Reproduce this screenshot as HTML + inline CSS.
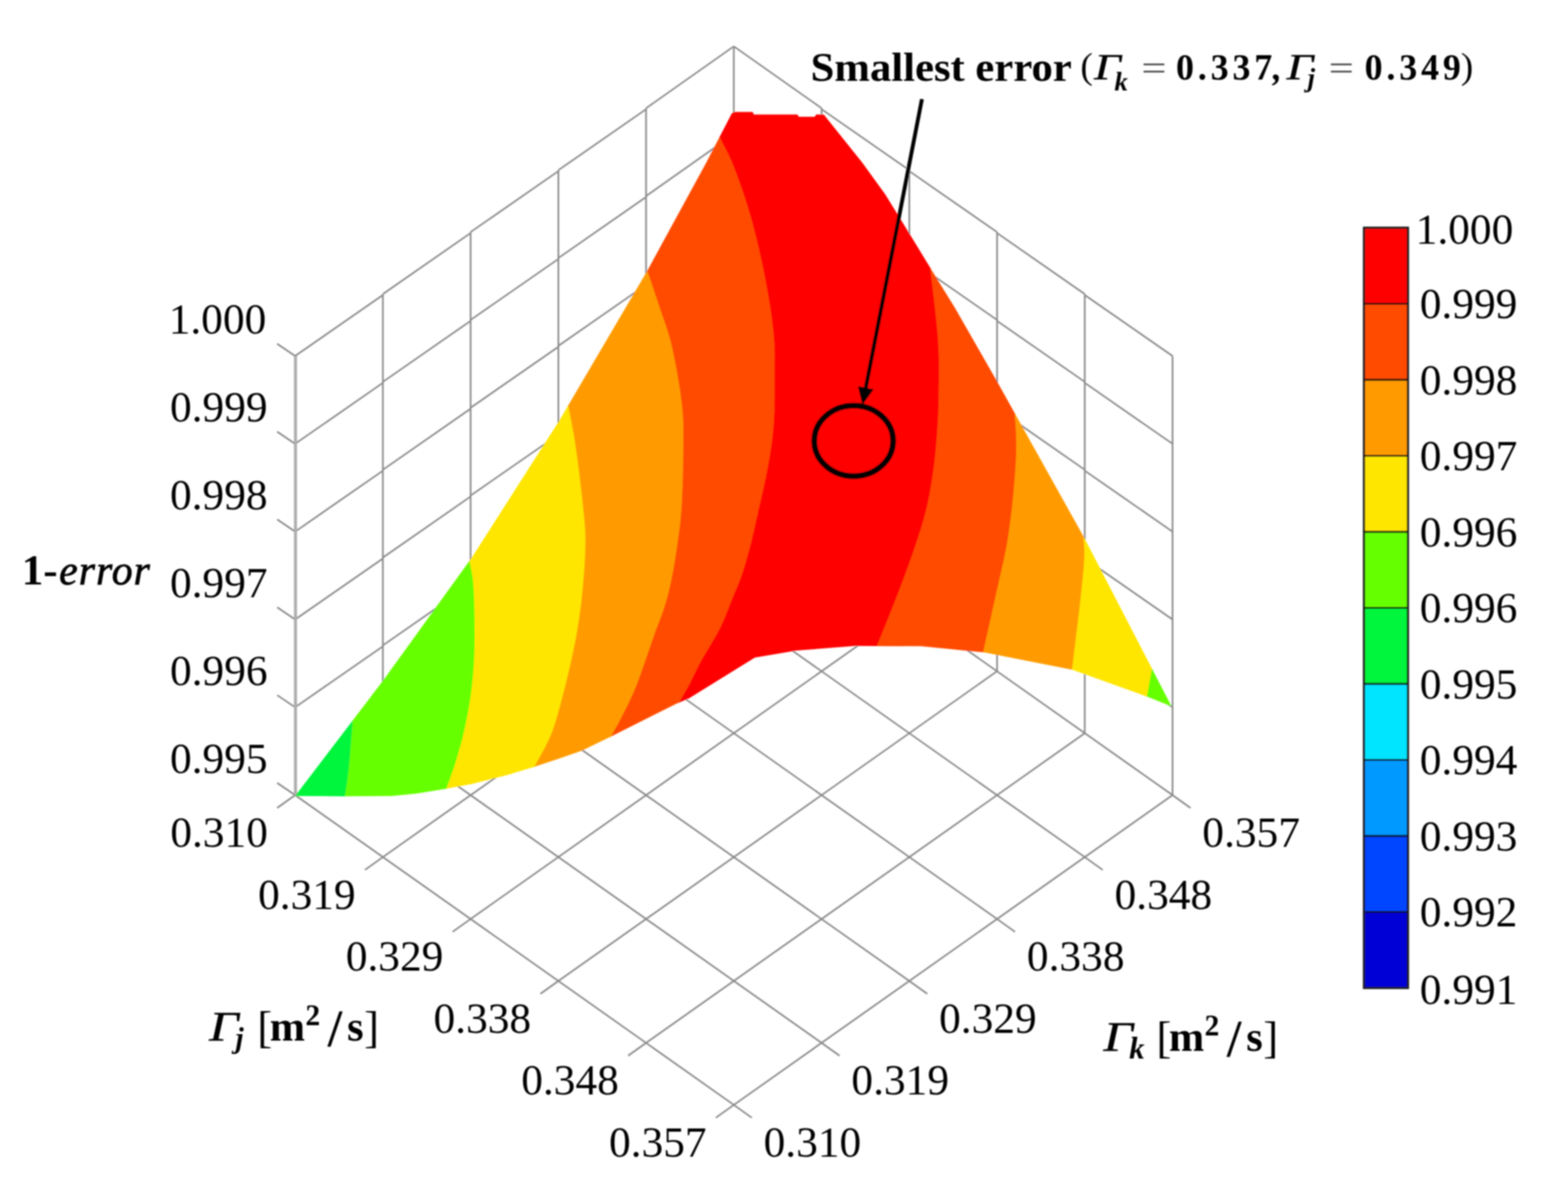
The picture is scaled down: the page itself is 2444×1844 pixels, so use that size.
<!DOCTYPE html>
<html lang="en"><head><meta charset="utf-8"><title>Surface plot: 1-error vs Γj and Γk</title>
<style>html,body{margin:0;padding:0;background:#fff;overflow:hidden}svg{display:block}</style></head>
<body>
<svg width="2444" height="1844" viewBox="0 0 2444 1844">
<defs><filter id="soft" x="0" y="0" width="2444" height="1844" filterUnits="userSpaceOnUse"><feGaussianBlur stdDeviation="0.8"/></filter></defs>
<rect width="2444" height="1844" fill="#fff"/>
<g filter="url(#soft)">
<g fill="none" stroke-linecap="butt"><line x1="460" y1="1239.4" x2="460" y2="554.9" stroke="#8a8a8a" stroke-width="2.6" />
<line x1="596.8" y1="1142.9" x2="596.8" y2="458.4" stroke="#8a8a8a" stroke-width="2.6" />
<line x1="733.5" y1="1046.3" x2="733.5" y2="361.8" stroke="#8a8a8a" stroke-width="2.6" />
<line x1="870.3" y1="949.8" x2="870.3" y2="265.3" stroke="#8a8a8a" stroke-width="2.6" />
<line x1="1007" y1="853.2" x2="1007" y2="168.7" stroke="#8a8a8a" stroke-width="2.6" />
<line x1="1143.8" y1="756.7" x2="1143.8" y2="72.2" stroke="#8a8a8a" stroke-width="2.6" />
<line x1="1280.6" y1="853.2" x2="1280.6" y2="168.7" stroke="#8a8a8a" stroke-width="2.6" />
<line x1="1417.3" y1="949.8" x2="1417.3" y2="265.3" stroke="#8a8a8a" stroke-width="2.6" />
<line x1="1554.1" y1="1046.3" x2="1554.1" y2="361.8" stroke="#8a8a8a" stroke-width="2.6" />
<line x1="1690.8" y1="1142.9" x2="1690.8" y2="458.4" stroke="#8a8a8a" stroke-width="2.6" />
<line x1="1827.6" y1="1239.4" x2="1827.6" y2="554.9" stroke="#8a8a8a" stroke-width="2.6" />
<line x1="460" y1="554.9" x2="596.8" y2="459.9" stroke="#8a8a8a" stroke-width="2.6" />
<line x1="1827.6" y1="554.9" x2="1690.8" y2="459.9" stroke="#8a8a8a" stroke-width="2.6" />
<line x1="596.8" y1="458.4" x2="733.5" y2="363.3" stroke="#8a8a8a" stroke-width="2.6" />
<line x1="1690.8" y1="458.4" x2="1554.1" y2="363.3" stroke="#8a8a8a" stroke-width="2.6" />
<line x1="733.5" y1="361.8" x2="870.3" y2="266.8" stroke="#8a8a8a" stroke-width="2.6" />
<line x1="1554.1" y1="361.8" x2="1417.3" y2="266.8" stroke="#8a8a8a" stroke-width="2.6" />
<line x1="870.3" y1="265.3" x2="1007" y2="170.2" stroke="#8a8a8a" stroke-width="2.6" />
<line x1="1417.3" y1="265.3" x2="1280.6" y2="170.2" stroke="#8a8a8a" stroke-width="2.6" />
<line x1="1007" y1="168.7" x2="1143.8" y2="72.2" stroke="#8a8a8a" stroke-width="2.6" />
<line x1="1280.6" y1="168.7" x2="1143.8" y2="72.2" stroke="#8a8a8a" stroke-width="2.6" />
<line x1="460" y1="691.8" x2="596.8" y2="596.8" stroke="#8a8a8a" stroke-width="2.6" />
<line x1="1827.6" y1="691.8" x2="1690.8" y2="596.8" stroke="#8a8a8a" stroke-width="2.6" />
<line x1="596.8" y1="595.3" x2="733.5" y2="500.2" stroke="#8a8a8a" stroke-width="2.6" />
<line x1="1690.8" y1="595.3" x2="1554.1" y2="500.2" stroke="#8a8a8a" stroke-width="2.6" />
<line x1="733.5" y1="498.7" x2="870.3" y2="403.7" stroke="#8a8a8a" stroke-width="2.6" />
<line x1="1554.1" y1="498.7" x2="1417.3" y2="403.7" stroke="#8a8a8a" stroke-width="2.6" />
<line x1="870.3" y1="402.2" x2="1007" y2="307.1" stroke="#8a8a8a" stroke-width="2.6" />
<line x1="1417.3" y1="402.2" x2="1280.6" y2="307.1" stroke="#8a8a8a" stroke-width="2.6" />
<line x1="1007" y1="305.6" x2="1143.8" y2="209.1" stroke="#8a8a8a" stroke-width="2.6" />
<line x1="1280.6" y1="305.6" x2="1143.8" y2="209.1" stroke="#8a8a8a" stroke-width="2.6" />
<line x1="460" y1="828.7" x2="596.8" y2="733.7" stroke="#8a8a8a" stroke-width="2.6" />
<line x1="1827.6" y1="828.7" x2="1690.8" y2="733.7" stroke="#8a8a8a" stroke-width="2.6" />
<line x1="596.8" y1="732.2" x2="733.5" y2="637.1" stroke="#8a8a8a" stroke-width="2.6" />
<line x1="1690.8" y1="732.2" x2="1554.1" y2="637.1" stroke="#8a8a8a" stroke-width="2.6" />
<line x1="733.5" y1="635.6" x2="870.3" y2="540.6" stroke="#8a8a8a" stroke-width="2.6" />
<line x1="1554.1" y1="635.6" x2="1417.3" y2="540.6" stroke="#8a8a8a" stroke-width="2.6" />
<line x1="870.3" y1="539.1" x2="1007" y2="444" stroke="#8a8a8a" stroke-width="2.6" />
<line x1="1417.3" y1="539.1" x2="1280.6" y2="444" stroke="#8a8a8a" stroke-width="2.6" />
<line x1="1007" y1="442.5" x2="1143.8" y2="346" stroke="#8a8a8a" stroke-width="2.6" />
<line x1="1280.6" y1="442.5" x2="1143.8" y2="346" stroke="#8a8a8a" stroke-width="2.6" />
<line x1="460" y1="965.6" x2="596.8" y2="870.6" stroke="#8a8a8a" stroke-width="2.6" />
<line x1="1827.6" y1="965.6" x2="1690.8" y2="870.6" stroke="#8a8a8a" stroke-width="2.6" />
<line x1="596.8" y1="869.1" x2="733.5" y2="774" stroke="#8a8a8a" stroke-width="2.6" />
<line x1="1690.8" y1="869.1" x2="1554.1" y2="774" stroke="#8a8a8a" stroke-width="2.6" />
<line x1="733.5" y1="772.5" x2="870.3" y2="677.5" stroke="#8a8a8a" stroke-width="2.6" />
<line x1="1554.1" y1="772.5" x2="1417.3" y2="677.5" stroke="#8a8a8a" stroke-width="2.6" />
<line x1="870.3" y1="676" x2="1007" y2="580.9" stroke="#8a8a8a" stroke-width="2.6" />
<line x1="1417.3" y1="676" x2="1280.6" y2="580.9" stroke="#8a8a8a" stroke-width="2.6" />
<line x1="1007" y1="579.4" x2="1143.8" y2="482.9" stroke="#8a8a8a" stroke-width="2.6" />
<line x1="1280.6" y1="579.4" x2="1143.8" y2="482.9" stroke="#8a8a8a" stroke-width="2.6" />
<line x1="460" y1="1102.5" x2="596.8" y2="1007.5" stroke="#8a8a8a" stroke-width="2.6" />
<line x1="1827.6" y1="1102.5" x2="1690.8" y2="1007.5" stroke="#8a8a8a" stroke-width="2.6" />
<line x1="596.8" y1="1006" x2="733.5" y2="910.9" stroke="#8a8a8a" stroke-width="2.6" />
<line x1="1690.8" y1="1006" x2="1554.1" y2="910.9" stroke="#8a8a8a" stroke-width="2.6" />
<line x1="733.5" y1="909.4" x2="870.3" y2="814.4" stroke="#8a8a8a" stroke-width="2.6" />
<line x1="1554.1" y1="909.4" x2="1417.3" y2="814.4" stroke="#8a8a8a" stroke-width="2.6" />
<line x1="870.3" y1="812.9" x2="1007" y2="717.8" stroke="#8a8a8a" stroke-width="2.6" />
<line x1="1417.3" y1="812.9" x2="1280.6" y2="717.8" stroke="#8a8a8a" stroke-width="2.6" />
<line x1="1007" y1="716.3" x2="1143.8" y2="619.8" stroke="#8a8a8a" stroke-width="2.6" />
<line x1="1280.6" y1="716.3" x2="1143.8" y2="619.8" stroke="#8a8a8a" stroke-width="2.6" />
<line x1="460" y1="1239.4" x2="1143.8" y2="1722.2" stroke="#8a8a8a" stroke-width="2.6" />
<line x1="1827.6" y1="1239.4" x2="1143.8" y2="1722.2" stroke="#8a8a8a" stroke-width="2.6" />
<line x1="596.8" y1="1142.9" x2="1280.6" y2="1625.6" stroke="#8a8a8a" stroke-width="2.6" />
<line x1="1690.8" y1="1142.9" x2="1007" y2="1625.6" stroke="#8a8a8a" stroke-width="2.6" />
<line x1="733.5" y1="1046.3" x2="1417.3" y2="1529.1" stroke="#8a8a8a" stroke-width="2.6" />
<line x1="1554.1" y1="1046.3" x2="870.3" y2="1529.1" stroke="#8a8a8a" stroke-width="2.6" />
<line x1="870.3" y1="949.8" x2="1554.1" y2="1432.5" stroke="#8a8a8a" stroke-width="2.6" />
<line x1="1417.3" y1="949.8" x2="733.5" y2="1432.5" stroke="#8a8a8a" stroke-width="2.6" />
<line x1="1007" y1="853.2" x2="1690.8" y2="1336" stroke="#8a8a8a" stroke-width="2.6" />
<line x1="1280.6" y1="853.2" x2="596.8" y2="1336" stroke="#8a8a8a" stroke-width="2.6" />
<line x1="1143.8" y1="756.7" x2="1827.6" y2="1239.4" stroke="#8a8a8a" stroke-width="2.6" />
<line x1="1143.8" y1="756.7" x2="460" y2="1239.4" stroke="#8a8a8a" stroke-width="2.6" />
<line x1="460" y1="554.9" x2="432" y2="535.9" stroke="#8a8a8a" stroke-width="2.6" />
<line x1="460" y1="691.8" x2="432" y2="672.8" stroke="#8a8a8a" stroke-width="2.6" />
<line x1="460" y1="828.7" x2="432" y2="809.7" stroke="#8a8a8a" stroke-width="2.6" />
<line x1="460" y1="965.6" x2="432" y2="946.6" stroke="#8a8a8a" stroke-width="2.6" />
<line x1="460" y1="1102.5" x2="432" y2="1083.5" stroke="#8a8a8a" stroke-width="2.6" />
<line x1="460" y1="1239.4" x2="432" y2="1220.4" stroke="#8a8a8a" stroke-width="2.6" />
<line x1="460" y1="1239.4" x2="432" y2="1259.4" stroke="#8a8a8a" stroke-width="2.6" />
<line x1="1827.6" y1="1239.4" x2="1855.6" y2="1259.4" stroke="#8a8a8a" stroke-width="2.6" />
<line x1="596.8" y1="1336" x2="568.8" y2="1356" stroke="#8a8a8a" stroke-width="2.6" />
<line x1="1690.8" y1="1336" x2="1718.8" y2="1356" stroke="#8a8a8a" stroke-width="2.6" />
<line x1="733.5" y1="1432.5" x2="705.5" y2="1452.5" stroke="#8a8a8a" stroke-width="2.6" />
<line x1="1554.1" y1="1432.5" x2="1582.1" y2="1452.5" stroke="#8a8a8a" stroke-width="2.6" />
<line x1="870.3" y1="1529.1" x2="842.3" y2="1549.1" stroke="#8a8a8a" stroke-width="2.6" />
<line x1="1417.3" y1="1529.1" x2="1445.3" y2="1549.1" stroke="#8a8a8a" stroke-width="2.6" />
<line x1="1007" y1="1625.6" x2="979" y2="1645.6" stroke="#8a8a8a" stroke-width="2.6" />
<line x1="1280.6" y1="1625.6" x2="1308.6" y2="1645.6" stroke="#8a8a8a" stroke-width="2.6" />
<line x1="1143.8" y1="1722.2" x2="1115.8" y2="1742.2" stroke="#8a8a8a" stroke-width="2.6" />
<line x1="1143.8" y1="1722.2" x2="1171.8" y2="1742.2" stroke="#8a8a8a" stroke-width="2.6" /></g>
<line x1="460.6" y1="554.9" x2="460.6" y2="1239.4" stroke="#adadad" stroke-width="4.6" />
<polygon points="1073.6,1088.7 1176.6,1024.9 1241.7,1014.1 1334,1006.8 1435.6,1007.3 1367.6,1007 1368,1006 1372.4,994.9 1376.9,983.7 1381.5,972.4 1386,961.2 1390.5,950 1394.8,939.1 1399,928.4 1403,918 1406.8,907.9 1410.6,897.9 1414.2,888.2 1417.7,878.6 1421,869.3 1424.2,860.2 1427.2,851.5 1430,843 1432.6,835 1435,827.4 1437.2,820.3 1439.3,813.3 1441.2,806.4 1443,799.5 1444.8,792.4 1446.5,785 1448.1,777.3 1449.7,769.5 1451.1,761.6 1452.4,753.6 1453.7,745.6 1454.9,737.4 1456,729.2 1457,721 1458,712.6 1458.9,703.9 1459.7,695.1 1460.4,686.3 1461.1,677.6 1461.7,669 1462.2,660.8 1462.7,653 1463.1,645.6 1463.4,638.5 1463.6,631.7 1463.7,625.1 1463.8,618.6 1463.9,612.3 1463.9,606.1 1464,600 1464.1,593.9 1464.1,588 1464.2,582.1 1464.2,576.4 1464.2,570.8 1464.2,565.4 1464.1,560.1 1464,555 1463.9,550.1 1463.7,545.5 1463.5,541.1 1463.2,536.9 1462.9,532.7 1462.7,528.5 1462.3,524.3 1462,520 1461.6,515.6 1461.2,511.2 1460.8,506.9 1460.4,502.5 1459.9,498.1 1459.4,493.8 1459,489.4 1458.5,485 1458,480.6 1457.5,476.2 1457,471.7 1456.5,467.3 1456,462.9 1455.5,458.5 1455,454.2 1454.5,450 1454,445.9 1453.5,441.8 1453,437.8 1452.5,433.8 1452,429.9 1451.5,425.9 1451,422 1450.5,418.4 1450.5,418.3 1418,365.1 1380,303.3 1344,253.5 1314,216 1284,178.6 1272,178.6 1270,182 1245,182 1243,178.6 1175,178.6 1173,174.5 1144,174.5 1140.5,177 1119.5,217.6 1121.2,214.2 1122.4,216.6 1125.1,222.1 1127.7,227.3 1130.3,232.3 1132.9,237.4 1135.6,242.8 1138.3,248.7 1141.1,255.2 1144.1,262.7 1147.3,271.1 1150.6,280.3 1154.1,290 1157.7,300.3 1161.2,311 1164.7,322 1168,333 1171.2,344.1 1174.2,355.4 1177.2,367.2 1180.2,379.3 1183,391.6 1185.7,403.8 1188.3,415.9 1190.7,427.7 1192.9,439 1194.9,449.9 1196.8,460.7 1198.6,471.3 1200.2,481.6 1201.7,491.7 1202.9,501.5 1204.1,510.9 1205,520 1205.7,528.5 1206.2,536.3 1206.5,543.6 1206.6,550.7 1206.6,557.8 1206.6,565.1 1206.5,572.9 1206.5,581.4 1206.5,590.7 1206.5,600.6 1206.5,611 1206.5,621.7 1206.3,632.3 1206.1,642.9 1205.7,653 1205.1,662.7 1204.3,671.8 1203.4,680.6 1202.4,689 1201.2,697.3 1199.9,705.5 1198.6,713.7 1197.1,722 1195.6,730.5 1193.9,739.3 1192.1,748.3 1190.1,757.4 1188.1,766.5 1186,775.5 1184,784.1 1182.1,792.4 1180.4,800 1178.8,807 1177.4,813.4 1176.1,819.4 1174.8,825.1 1173.6,830.7 1172.3,836.1 1171,841.7 1169.5,847.5 1167.9,853.5 1166.3,859.7 1164.6,865.9 1162.9,872.1 1161.2,878.1 1159.4,884 1157.7,889.6 1156,894.9 1154.3,899.8 1152.6,904.3 1150.9,908.6 1149.2,912.7 1147.5,916.7 1145.8,920.6 1144.1,924.6 1142.4,928.8 1140.7,933.1 1138.9,937.6 1137.1,942.1 1135.4,946.6 1133.6,951 1131.9,955.2 1130.3,959.2 1128.8,962.8 1127.4,966 1126.2,968.9 1125,971.6 1123.9,974 1122.8,976.4 1121.7,978.8 1120.4,981.3 1119,984 1117.5,986.9 1115.8,989.8 1114.1,992.7 1112.3,995.7 1110.5,998.7 1108.7,1001.8 1106.8,1004.9 1105,1008 1103.2,1011.1 1101.3,1014.2 1099.5,1017.3 1097.6,1020.5 1095.7,1023.7 1093.8,1027.1 1091.9,1030.5 1089.9,1034.2 1087.9,1038.1 1085.8,1042.2 1083.7,1046.5 1081.6,1050.8 1079.5,1055.2 1077.3,1059.6 1075.2,1063.9 1073,1068 1070.8,1072 1068.7,1075.8 1066.5,1079.6 1064.3,1083.4 1062.1,1087.1 1059.9,1090.9 1057.7,1094.6 1057,1095.8 1054.6,1096.8" fill="#ff0000"/>
<polygon points="1059.9,1090.9 1062.1,1087.1 1064.3,1083.4 1066.5,1079.6 1068.7,1075.8 1070.8,1072 1073,1068 1075.2,1063.9 1077.3,1059.6 1079.5,1055.2 1081.6,1050.8 1083.7,1046.5 1085.8,1042.2 1087.9,1038.1 1089.9,1034.2 1091.9,1030.5 1093.8,1027.1 1095.7,1023.7 1097.6,1020.5 1099.5,1017.3 1101.3,1014.2 1103.2,1011.1 1105,1008 1106.8,1004.9 1108.7,1001.8 1110.5,998.7 1112.3,995.7 1114.1,992.7 1115.8,989.8 1117.5,986.9 1119,984 1120.4,981.3 1121.7,978.8 1122.8,976.4 1123.9,974 1125,971.6 1126.2,968.9 1127.4,966 1128.8,962.8 1130.3,959.2 1131.9,955.2 1133.6,951 1135.4,946.6 1137.1,942.1 1138.9,937.6 1140.7,933.1 1142.4,928.8 1144.1,924.6 1145.8,920.6 1147.5,916.7 1149.2,912.7 1150.9,908.6 1152.6,904.3 1154.3,899.8 1156,894.9 1157.7,889.6 1159.4,884 1161.2,878.1 1162.9,872.1 1164.6,865.9 1166.3,859.7 1167.9,853.5 1169.5,847.5 1171,841.7 1172.3,836.1 1173.6,830.7 1174.8,825.1 1176.1,819.4 1177.4,813.4 1178.8,807 1180.4,800 1182.1,792.4 1184,784.1 1186,775.5 1188.1,766.5 1190.1,757.4 1192.1,748.3 1193.9,739.3 1195.6,730.5 1197.1,722 1198.6,713.7 1199.9,705.5 1201.2,697.3 1202.4,689 1203.4,680.6 1204.3,671.8 1205.1,662.7 1205.7,653 1206.1,642.9 1206.3,632.3 1206.5,621.7 1206.5,611 1206.5,600.6 1206.5,590.7 1206.5,581.4 1206.5,572.9 1206.6,565.1 1206.6,557.8 1206.6,550.7 1206.5,543.6 1206.2,536.3 1205.7,528.5 1205,520 1204.1,510.9 1202.9,501.5 1201.7,491.7 1200.2,481.6 1198.6,471.3 1196.8,460.7 1194.9,449.9 1192.9,439 1190.7,427.7 1188.3,415.9 1185.7,403.8 1183,391.6 1180.2,379.3 1177.2,367.2 1174.2,355.4 1171.2,344.1 1168,333 1164.7,322 1161.2,311 1157.7,300.3 1154.1,290 1150.6,280.3 1147.3,271.1 1144.1,262.7 1141.1,255.2 1138.3,248.7 1135.6,242.8 1132.9,237.4 1130.3,232.3 1127.7,227.3 1125.1,222.1 1122.4,216.6 1121.2,214.2 1119.5,217.6 1100,255 1008.5,422.8 1010.9,429.9 1013.2,436.9 1015.6,444 1018,451 1020.4,458.1 1022.8,465.2 1025.1,472.4 1027.5,479.7 1029.9,486.8 1032.3,493.7 1034.7,500.5 1037.2,507.4 1039.6,514.7 1041.9,522.4 1044.3,530.8 1046.5,540 1048.8,550.4 1051.1,561.8 1053.4,573.9 1055.7,586.5 1057.8,599.2 1059.8,611.9 1061.4,624.1 1062.7,635.6 1063.6,646.5 1064.2,657 1064.5,667.3 1064.6,677.4 1064.5,687.3 1064.4,697.2 1064.2,707.1 1064.1,717 1064,727 1063.8,737.2 1063.5,747.3 1063.2,757.4 1062.8,767.3 1062.4,776.9 1061.9,786.2 1061.3,795 1060.6,803.3 1059.9,811.3 1059.1,818.8 1058.2,826.1 1057.3,833.3 1056.3,840.3 1055.3,847.3 1054.3,854.3 1053.2,861.4 1052.1,868.5 1051,875.6 1049.8,882.6 1048.6,889.4 1047.3,896 1046.1,902.4 1044.8,908.5 1043.5,914.3 1042.2,919.8 1040.9,925 1039.6,930.1 1038.2,935 1036.8,939.8 1035.4,944.5 1033.9,949.2 1032.4,953.8 1030.8,958.2 1029.3,962.4 1027.7,966.6 1026,970.8 1024.4,975 1022.7,979.4 1021,984 1019.3,988.8 1017.6,993.7 1015.9,998.7 1014.1,1003.8 1012.3,1009 1010.5,1014.3 1008.7,1019.6 1006.8,1025 1004.9,1030.5 1002.9,1036.2 1000.9,1042 998.9,1047.8 996.8,1053.6 994.7,1059.4 992.6,1065 990.4,1070.4 988.2,1075.6 986,1080.7 983.8,1085.7 981.5,1090.5 979.2,1095.4 976.9,1100.2 974.5,1105.1 972,1110 969.5,1115 966.9,1120 964.2,1125 961.5,1130 958.8,1135 956,1140 953.3,1145 951.5,1148.4 1054.6,1096.8 1057,1095.8 1057.7,1094.6" fill="#ff4b00"/>
<polygon points="956,1140 958.8,1135 961.5,1130 964.2,1125 966.9,1120 969.5,1115 972,1110 974.5,1105.1 976.9,1100.2 979.2,1095.4 981.5,1090.5 983.8,1085.7 986,1080.7 988.2,1075.6 990.4,1070.4 992.6,1065 994.7,1059.4 996.8,1053.6 998.9,1047.8 1000.9,1042 1002.9,1036.2 1004.9,1030.5 1006.8,1025 1008.7,1019.6 1010.5,1014.3 1012.3,1009 1014.1,1003.8 1015.9,998.7 1017.6,993.7 1019.3,988.8 1021,984 1022.7,979.4 1024.4,975 1026,970.8 1027.7,966.6 1029.3,962.4 1030.8,958.2 1032.4,953.8 1033.9,949.2 1035.4,944.5 1036.8,939.8 1038.2,935 1039.6,930.1 1040.9,925 1042.2,919.8 1043.5,914.3 1044.8,908.5 1046.1,902.4 1047.3,896 1048.6,889.4 1049.8,882.6 1051,875.6 1052.1,868.5 1053.2,861.4 1054.3,854.3 1055.3,847.3 1056.3,840.3 1057.3,833.3 1058.2,826.1 1059.1,818.8 1059.9,811.3 1060.6,803.3 1061.3,795 1061.9,786.2 1062.4,776.9 1062.8,767.3 1063.2,757.4 1063.5,747.3 1063.8,737.2 1064,727 1064.1,717 1064.2,707.1 1064.4,697.2 1064.5,687.3 1064.6,677.4 1064.5,667.3 1064.2,657 1063.6,646.5 1062.7,635.6 1061.4,624.1 1059.8,611.9 1057.8,599.2 1055.7,586.5 1053.4,573.9 1051.1,561.8 1048.8,550.4 1046.5,540 1044.3,530.8 1041.9,522.4 1039.6,514.7 1037.2,507.4 1034.7,500.5 1032.3,493.7 1029.9,486.8 1027.5,479.7 1025.1,472.4 1022.8,465.2 1020.4,458.1 1018,451 1015.6,444 1013.2,436.9 1010.9,429.9 1008.5,422.8 885.2,632.7 885.5,634.4 886.9,641.7 888.2,648.8 889.6,655.8 890.9,662.9 892.3,670.1 893.6,677.6 895,685.6 896.3,694.1 897.6,703.4 899,713.3 900.4,723.8 901.7,734.5 903.1,745.3 904.3,755.8 905.5,766 906.5,775.5 907.5,784.3 908.4,792.7 909.2,800.7 910,808.5 910.7,816.2 911.2,823.9 911.6,831.8 911.8,840 911.8,848.5 911.6,857.2 911.3,866 910.8,874.9 910.3,883.8 909.6,892.6 908.9,901.4 908.2,910 907.4,918.5 906.6,927 905.7,935.4 904.7,943.7 903.6,952 902.5,960.3 901.3,968.5 900,976.6 898.7,984.6 897.3,992.5 895.8,1000.3 894.2,1008 892.6,1015.8 890.9,1023.7 889.2,1031.7 887.3,1039.9 885.3,1048.5 883.1,1057.7 880.8,1067 878.4,1076.4 876.1,1085.6 873.8,1094.4 871.6,1102.6 869.5,1110 867.7,1116.4 866.1,1122 864.6,1126.9 863.1,1131.5 861.6,1135.9 860,1140.3 858.2,1144.9 856,1150 853.5,1155.4 850.7,1161 847.8,1166.8 844.7,1172.5 841.5,1178.4 838.2,1184.2 835.1,1190 832.1,1195.6 871.3,1182.5 907.2,1170 948.8,1149.7 951.5,1148.4 953.3,1145" fill="#ff9b00"/>
<polygon points="838.2,1184.2 841.5,1178.4 844.7,1172.5 847.8,1166.8 850.7,1161 853.5,1155.4 856,1150 858.2,1144.9 860,1140.3 861.6,1135.9 863.1,1131.5 864.6,1126.9 866.1,1122 867.7,1116.4 869.5,1110 871.6,1102.6 873.8,1094.4 876.1,1085.6 878.4,1076.4 880.8,1067 883.1,1057.7 885.3,1048.5 887.3,1039.9 889.2,1031.7 890.9,1023.7 892.6,1015.8 894.2,1008 895.8,1000.3 897.3,992.5 898.7,984.6 900,976.6 901.3,968.5 902.5,960.3 903.6,952 904.7,943.7 905.7,935.4 906.6,927 907.4,918.5 908.2,910 908.9,901.4 909.6,892.6 910.3,883.8 910.8,874.9 911.3,866 911.6,857.2 911.8,848.5 911.8,840 911.6,831.8 911.2,823.9 910.7,816.2 910,808.5 909.2,800.7 908.4,792.7 907.5,784.3 906.5,775.5 905.5,766 904.3,755.8 903.1,745.3 901.7,734.5 900.4,723.8 899,713.3 897.6,703.4 896.3,694.1 895,685.6 893.6,677.6 892.3,670.1 890.9,662.9 889.6,655.8 888.2,648.8 886.9,641.7 885.5,634.4 885.2,632.7 870.6,657.5 735.5,869 596.6,1061.6 731.4,874.7 731.8,877.1 732.7,882.1 733.7,886.8 734.6,891.7 735.6,896.9 736.4,902.8 737.1,909.7 737.7,917.8 738.2,927.5 738.6,938.7 738.9,951 739.1,963.9 739.2,977 739.3,989.7 739.2,1001.8 739,1012.7 738.7,1022.5 738.2,1031.8 737.7,1040.5 737.1,1048.8 736.3,1056.9 735.5,1064.8 734.6,1072.6 733.6,1080.5 732.5,1088.4 731.4,1096.2 730.1,1103.8 728.7,1111.4 727.3,1118.7 725.8,1126 724.3,1133.1 722.8,1140 721.2,1146.8 719.6,1153.4 717.9,1159.9 716.1,1166.2 714.3,1172.4 712.5,1178.5 710.8,1184.3 709,1190 707.3,1195.4 705.5,1200.6 703.8,1205.6 702,1210.4 700.3,1215.1 698.5,1219.9 696.8,1224.6 695,1229.5 735.6,1221.9 789.9,1208.3 830.6,1196.1 832.1,1195.6 835.1,1190" fill="#ffe600"/>
<polygon points="698.5,1219.9 700.3,1215.1 702,1210.4 703.8,1205.6 705.5,1200.6 707.3,1195.4 709,1190 710.8,1184.3 712.5,1178.5 714.3,1172.4 716.1,1166.2 717.9,1159.9 719.6,1153.4 721.2,1146.8 722.8,1140 724.3,1133.1 725.8,1126 727.3,1118.7 728.7,1111.4 730.1,1103.8 731.4,1096.2 732.5,1088.4 733.6,1080.5 734.6,1072.6 735.5,1064.8 736.3,1056.9 737.1,1048.8 737.7,1040.5 738.2,1031.8 738.7,1022.5 739,1012.7 739.2,1001.8 739.3,989.7 739.2,977 739.1,963.9 738.9,951 738.6,938.7 738.2,927.5 737.7,917.8 737.1,909.7 736.4,902.8 735.6,896.9 734.6,891.7 733.7,886.8 732.7,882.1 731.8,877.1 731.4,874.7 596.6,1061.6 549.2,1123.7 549.2,1123.9 548.9,1128.3 548.6,1132.7 548.3,1136.9 548,1141.2 547.6,1145.6 547.3,1150.2 546.9,1154.9 546.5,1160 546,1165.5 545.5,1171.5 545,1177.7 544.4,1184.1 543.8,1190.4 543.2,1196.6 542.6,1202.4 542,1207.8 541.4,1212.7 540.8,1217.2 540.2,1221.4 539.5,1225.4 538.9,1229.4 538.3,1233.3 537.6,1237.2 537,1241.3 611,1240.8 648.9,1237 695,1229.5 696.8,1224.6" fill="#66ff00"/>
<polygon points="537.6,1237.2 538.3,1233.3 538.9,1229.4 539.5,1225.4 540.2,1221.4 540.8,1217.2 541.4,1212.7 542,1207.8 542.6,1202.4 543.2,1196.6 543.8,1190.4 544.4,1184.1 545,1177.7 545.5,1171.5 546,1165.5 546.5,1160 546.9,1154.9 547.3,1150.2 547.6,1145.6 548,1141.2 548.3,1136.9 548.6,1132.7 548.9,1128.3 549.2,1123.9 549.2,1123.7 460,1240.7 535,1241.3 537,1241.3" fill="#00f53d"/>
<polygon points="1451.5,425.9 1452,429.9 1452.5,433.8 1453,437.8 1453.5,441.8 1454,445.9 1454.5,450 1455,454.2 1455.5,458.5 1456,462.9 1456.5,467.3 1457,471.7 1457.5,476.2 1458,480.6 1458.5,485 1459,489.4 1459.4,493.8 1459.9,498.1 1460.4,502.5 1460.8,506.9 1461.2,511.2 1461.6,515.6 1462,520 1462.3,524.3 1462.7,528.5 1462.9,532.7 1463.2,536.9 1463.5,541.1 1463.7,545.5 1463.9,550.1 1464,555 1464.1,560.1 1464.2,565.4 1464.2,570.8 1464.2,576.4 1464.2,582.1 1464.1,588 1464.1,593.9 1464,600 1463.9,606.1 1463.9,612.3 1463.8,618.6 1463.7,625.1 1463.6,631.7 1463.4,638.5 1463.1,645.6 1462.7,653 1462.2,660.8 1461.7,669 1461.1,677.6 1460.4,686.3 1459.7,695.1 1458.9,703.9 1458,712.6 1457,721 1456,729.2 1454.9,737.4 1453.7,745.6 1452.4,753.6 1451.1,761.6 1449.7,769.5 1448.1,777.3 1446.5,785 1444.8,792.4 1443,799.5 1441.2,806.4 1439.3,813.3 1437.2,820.3 1435,827.4 1432.6,835 1430,843 1427.2,851.5 1424.2,860.2 1421,869.3 1417.7,878.6 1414.2,888.2 1410.6,897.9 1406.8,907.9 1403,918 1399,928.4 1394.8,939.1 1390.5,950 1386,961.2 1381.5,972.4 1376.9,983.7 1372.4,994.9 1368,1006 1367.6,1007 1435.6,1007.3 1533,1016.8 1533.3,1015.5 1536.1,1003 1538.9,990.2 1541.8,977.2 1544.7,964.4 1547.5,951.7 1550.2,939.6 1552.7,928.3 1555,917.8 1557.1,908.4 1559.1,899.8 1560.9,891.9 1562.6,884.6 1564.2,877.6 1565.7,870.7 1567.1,863.8 1568.5,856.8 1569.8,849.7 1571,842.8 1572.1,836 1573.1,829.3 1574,822.6 1574.9,816 1575.8,809.3 1576.6,802.6 1577.4,795.8 1578.2,789 1578.9,782.2 1579.6,775.4 1580.3,768.7 1580.9,761.9 1581.5,755.1 1582,748.3 1582.5,741.5 1583,734.7 1583.5,728 1583.9,721.2 1584.3,714.4 1584.6,707.6 1584.7,700.9 1584.8,694.1 1584.7,687.3 1584.5,680.5 1584.2,673.8 1583.8,667 1583.3,660.2 1582.8,653.5 1582.4,646.7 1582.3,645.2 1689.7,837.8 1553.6,593.7 1488.5,480 1450.5,418.4 1451,422" fill="#ff4b00"/>
<polygon points="1582.8,653.5 1583.3,660.2 1583.8,667 1584.2,673.8 1584.5,680.5 1584.7,687.3 1584.8,694.1 1584.7,700.9 1584.6,707.6 1584.3,714.4 1583.9,721.2 1583.5,728 1583,734.7 1582.5,741.5 1582,748.3 1581.5,755.1 1580.9,761.9 1580.3,768.7 1579.6,775.4 1578.9,782.2 1578.2,789 1577.4,795.8 1576.6,802.6 1575.8,809.3 1574.9,816 1574,822.6 1573.1,829.3 1572.1,836 1571,842.8 1569.8,849.7 1568.5,856.8 1567.1,863.8 1565.7,870.7 1564.2,877.6 1562.6,884.6 1560.9,891.9 1559.1,899.8 1557.1,908.4 1555,917.8 1552.7,928.3 1550.2,939.6 1547.5,951.7 1544.7,964.4 1541.8,977.2 1538.9,990.2 1536.1,1003 1533.3,1015.5 1533,1016.8 1533.3,1016.8 1671.6,1043.9 1673.3,1029.5 1675.2,1014.6 1677,999.5 1678.8,984.5 1680.6,969.8 1682.3,955.9 1683.8,943 1685.1,931.4 1686.2,921.1 1687.2,911.8 1688,903.3 1688.7,895.7 1689.4,888.6 1689.9,882.1 1690.3,875.9 1690.6,870 1690.8,864.6 1690.8,859.9 1690.7,855.8 1690.6,852.1 1690.3,848.6 1690.1,845.2 1689.9,841.6 1689.7,837.8 1582.3,645.2 1582.4,646.7" fill="#ff9b00"/>
<polygon points="1690.1,845.2 1690.3,848.6 1690.6,852.1 1690.7,855.8 1690.8,859.9 1690.8,864.6 1690.6,870 1690.3,875.9 1689.9,882.1 1689.4,888.6 1688.7,895.7 1688,903.3 1687.2,911.8 1686.2,921.1 1685.1,931.4 1683.8,943 1682.3,955.9 1680.6,969.8 1678.8,984.5 1677,999.5 1675.2,1014.6 1673.3,1029.5 1671.6,1043.9 1788.2,1086 1795.8,1042.7 1689.7,837.8 1689.9,841.6" fill="#ffe600"/>
<polygon points="1788.2,1086 1826,1101 1795.8,1042.7" fill="#66ff00"/>
<polyline points="1121.2,214.2 1122.4,216.6 1125.1,222.1 1127.7,227.3 1130.3,232.3 1132.9,237.4 1135.6,242.8 1138.3,248.7 1141.1,255.2 1144.1,262.7 1147.3,271.1 1150.6,280.3 1154.1,290 1157.7,300.3 1161.2,311 1164.7,322 1168,333 1171.2,344.1 1174.2,355.4 1177.2,367.2 1180.2,379.3 1183,391.6 1185.7,403.8 1188.3,415.9 1190.7,427.7 1192.9,439 1194.9,449.9 1196.8,460.7 1198.6,471.3 1200.2,481.6 1201.7,491.7 1202.9,501.5 1204.1,510.9 1205,520 1205.7,528.5 1206.2,536.3 1206.5,543.6 1206.6,550.7 1206.6,557.8 1206.6,565.1 1206.5,572.9 1206.5,581.4 1206.5,590.7 1206.5,600.6 1206.5,611 1206.5,621.7 1206.3,632.3 1206.1,642.9 1205.7,653 1205.1,662.7 1204.3,671.8 1203.4,680.6 1202.4,689 1201.2,697.3 1199.9,705.5 1198.6,713.7 1197.1,722 1195.6,730.5 1193.9,739.3 1192.1,748.3 1190.1,757.4 1188.1,766.5 1186,775.5 1184,784.1 1182.1,792.4 1180.4,800 1178.8,807 1177.4,813.4 1176.1,819.4 1174.8,825.1 1173.6,830.7 1172.3,836.1 1171,841.7 1169.5,847.5 1167.9,853.5 1166.3,859.7 1164.6,865.9 1162.9,872.1 1161.2,878.1 1159.4,884 1157.7,889.6 1156,894.9 1154.3,899.8 1152.6,904.3 1150.9,908.6 1149.2,912.7 1147.5,916.7 1145.8,920.6 1144.1,924.6 1142.4,928.8 1140.7,933.1 1138.9,937.6 1137.1,942.1 1135.4,946.6 1133.6,951 1131.9,955.2 1130.3,959.2 1128.8,962.8 1127.4,966 1126.2,968.9 1125,971.6 1123.9,974 1122.8,976.4 1121.7,978.8 1120.4,981.3 1119,984 1117.5,986.9 1115.8,989.8 1114.1,992.7 1112.3,995.7 1110.5,998.7 1108.7,1001.8 1106.8,1004.9 1105,1008 1103.2,1011.1 1101.3,1014.2 1099.5,1017.3 1097.6,1020.5 1095.7,1023.7 1093.8,1027.1 1091.9,1030.5 1089.9,1034.2 1087.9,1038.1 1085.8,1042.2 1083.7,1046.5 1081.6,1050.8 1079.5,1055.2 1077.3,1059.6 1075.2,1063.9 1073,1068 1070.8,1072 1068.7,1075.8 1066.5,1079.6 1064.3,1083.4 1062.1,1087.1 1059.9,1090.9 1057.7,1094.6 1057,1095.8" fill="none" stroke="#ff4b00" stroke-width="1.2"/>
<polyline points="1008.5,422.8 1010.9,429.9 1013.2,436.9 1015.6,444 1018,451 1020.4,458.1 1022.8,465.2 1025.1,472.4 1027.5,479.7 1029.9,486.8 1032.3,493.7 1034.7,500.5 1037.2,507.4 1039.6,514.7 1041.9,522.4 1044.3,530.8 1046.5,540 1048.8,550.4 1051.1,561.8 1053.4,573.9 1055.7,586.5 1057.8,599.2 1059.8,611.9 1061.4,624.1 1062.7,635.6 1063.6,646.5 1064.2,657 1064.5,667.3 1064.6,677.4 1064.5,687.3 1064.4,697.2 1064.2,707.1 1064.1,717 1064,727 1063.8,737.2 1063.5,747.3 1063.2,757.4 1062.8,767.3 1062.4,776.9 1061.9,786.2 1061.3,795 1060.6,803.3 1059.9,811.3 1059.1,818.8 1058.2,826.1 1057.3,833.3 1056.3,840.3 1055.3,847.3 1054.3,854.3 1053.2,861.4 1052.1,868.5 1051,875.6 1049.8,882.6 1048.6,889.4 1047.3,896 1046.1,902.4 1044.8,908.5 1043.5,914.3 1042.2,919.8 1040.9,925 1039.6,930.1 1038.2,935 1036.8,939.8 1035.4,944.5 1033.9,949.2 1032.4,953.8 1030.8,958.2 1029.3,962.4 1027.7,966.6 1026,970.8 1024.4,975 1022.7,979.4 1021,984 1019.3,988.8 1017.6,993.7 1015.9,998.7 1014.1,1003.8 1012.3,1009 1010.5,1014.3 1008.7,1019.6 1006.8,1025 1004.9,1030.5 1002.9,1036.2 1000.9,1042 998.9,1047.8 996.8,1053.6 994.7,1059.4 992.6,1065 990.4,1070.4 988.2,1075.6 986,1080.7 983.8,1085.7 981.5,1090.5 979.2,1095.4 976.9,1100.2 974.5,1105.1 972,1110 969.5,1115 966.9,1120 964.2,1125 961.5,1130 958.8,1135 956,1140 953.3,1145 951.5,1148.4" fill="none" stroke="#ff9b00" stroke-width="1.2"/>
<polyline points="885.2,632.7 885.5,634.4 886.9,641.7 888.2,648.8 889.6,655.8 890.9,662.9 892.3,670.1 893.6,677.6 895,685.6 896.3,694.1 897.6,703.4 899,713.3 900.4,723.8 901.7,734.5 903.1,745.3 904.3,755.8 905.5,766 906.5,775.5 907.5,784.3 908.4,792.7 909.2,800.7 910,808.5 910.7,816.2 911.2,823.9 911.6,831.8 911.8,840 911.8,848.5 911.6,857.2 911.3,866 910.8,874.9 910.3,883.8 909.6,892.6 908.9,901.4 908.2,910 907.4,918.5 906.6,927 905.7,935.4 904.7,943.7 903.6,952 902.5,960.3 901.3,968.5 900,976.6 898.7,984.6 897.3,992.5 895.8,1000.3 894.2,1008 892.6,1015.8 890.9,1023.7 889.2,1031.7 887.3,1039.9 885.3,1048.5 883.1,1057.7 880.8,1067 878.4,1076.4 876.1,1085.6 873.8,1094.4 871.6,1102.6 869.5,1110 867.7,1116.4 866.1,1122 864.6,1126.9 863.1,1131.5 861.6,1135.9 860,1140.3 858.2,1144.9 856,1150 853.5,1155.4 850.7,1161 847.8,1166.8 844.7,1172.5 841.5,1178.4 838.2,1184.2 835.1,1190 832.1,1195.6" fill="none" stroke="#ffe600" stroke-width="1.2"/>
<polyline points="731.4,874.7 731.8,877.1 732.7,882.1 733.7,886.8 734.6,891.7 735.6,896.9 736.4,902.8 737.1,909.7 737.7,917.8 738.2,927.5 738.6,938.7 738.9,951 739.1,963.9 739.2,977 739.3,989.7 739.2,1001.8 739,1012.7 738.7,1022.5 738.2,1031.8 737.7,1040.5 737.1,1048.8 736.3,1056.9 735.5,1064.8 734.6,1072.6 733.6,1080.5 732.5,1088.4 731.4,1096.2 730.1,1103.8 728.7,1111.4 727.3,1118.7 725.8,1126 724.3,1133.1 722.8,1140 721.2,1146.8 719.6,1153.4 717.9,1159.9 716.1,1166.2 714.3,1172.4 712.5,1178.5 710.8,1184.3 709,1190 707.3,1195.4 705.5,1200.6 703.8,1205.6 702,1210.4 700.3,1215.1 698.5,1219.9 696.8,1224.6 695,1229.5" fill="none" stroke="#66ff00" stroke-width="1.2"/>
<polyline points="549.2,1123.7 549.2,1123.9 548.9,1128.3 548.6,1132.7 548.3,1136.9 548,1141.2 547.6,1145.6 547.3,1150.2 546.9,1154.9 546.5,1160 546,1165.5 545.5,1171.5 545,1177.7 544.4,1184.1 543.8,1190.4 543.2,1196.6 542.6,1202.4 542,1207.8 541.4,1212.7 540.8,1217.2 540.2,1221.4 539.5,1225.4 538.9,1229.4 538.3,1233.3 537.6,1237.2 537,1241.3" fill="none" stroke="#00f53d" stroke-width="1.2"/>
<polyline points="1450.5,418.4 1451,422 1451.5,425.9 1452,429.9 1452.5,433.8 1453,437.8 1453.5,441.8 1454,445.9 1454.5,450 1455,454.2 1455.5,458.5 1456,462.9 1456.5,467.3 1457,471.7 1457.5,476.2 1458,480.6 1458.5,485 1459,489.4 1459.4,493.8 1459.9,498.1 1460.4,502.5 1460.8,506.9 1461.2,511.2 1461.6,515.6 1462,520 1462.3,524.3 1462.7,528.5 1462.9,532.7 1463.2,536.9 1463.5,541.1 1463.7,545.5 1463.9,550.1 1464,555 1464.1,560.1 1464.2,565.4 1464.2,570.8 1464.2,576.4 1464.2,582.1 1464.1,588 1464.1,593.9 1464,600 1463.9,606.1 1463.9,612.3 1463.8,618.6 1463.7,625.1 1463.6,631.7 1463.4,638.5 1463.1,645.6 1462.7,653 1462.2,660.8 1461.7,669 1461.1,677.6 1460.4,686.3 1459.7,695.1 1458.9,703.9 1458,712.6 1457,721 1456,729.2 1454.9,737.4 1453.7,745.6 1452.4,753.6 1451.1,761.6 1449.7,769.5 1448.1,777.3 1446.5,785 1444.8,792.4 1443,799.5 1441.2,806.4 1439.3,813.3 1437.2,820.3 1435,827.4 1432.6,835 1430,843 1427.2,851.5 1424.2,860.2 1421,869.3 1417.7,878.6 1414.2,888.2 1410.6,897.9 1406.8,907.9 1403,918 1399,928.4 1394.8,939.1 1390.5,950 1386,961.2 1381.5,972.4 1376.9,983.7 1372.4,994.9 1368,1006 1367.6,1007" fill="none" stroke="#ff4b00" stroke-width="1.2"/>
<polyline points="1582.3,645.2 1582.4,646.7 1582.8,653.5 1583.3,660.2 1583.8,667 1584.2,673.8 1584.5,680.5 1584.7,687.3 1584.8,694.1 1584.7,700.9 1584.6,707.6 1584.3,714.4 1583.9,721.2 1583.5,728 1583,734.7 1582.5,741.5 1582,748.3 1581.5,755.1 1580.9,761.9 1580.3,768.7 1579.6,775.4 1578.9,782.2 1578.2,789 1577.4,795.8 1576.6,802.6 1575.8,809.3 1574.9,816 1574,822.6 1573.1,829.3 1572.1,836 1571,842.8 1569.8,849.7 1568.5,856.8 1567.1,863.8 1565.7,870.7 1564.2,877.6 1562.6,884.6 1560.9,891.9 1559.1,899.8 1557.1,908.4 1555,917.8 1552.7,928.3 1550.2,939.6 1547.5,951.7 1544.7,964.4 1541.8,977.2 1538.9,990.2 1536.1,1003 1533.3,1015.5 1533,1016.8" fill="none" stroke="#ff9b00" stroke-width="1.2"/>
<polyline points="1689.7,837.8 1689.9,841.6 1690.1,845.2 1690.3,848.6 1690.6,852.1 1690.7,855.8 1690.8,859.9 1690.8,864.6 1690.6,870 1690.3,875.9 1689.9,882.1 1689.4,888.6 1688.7,895.7 1688,903.3 1687.2,911.8 1686.2,921.1 1685.1,931.4 1683.8,943 1682.3,955.9 1680.6,969.8 1678.8,984.5 1677,999.5 1675.2,1014.6 1673.3,1029.5 1671.6,1043.9" fill="none" stroke="#ffe600" stroke-width="1.2"/>
<polyline points="1795.8,1042.7 1788.2,1086" fill="none" stroke="#66ff00" stroke-width="1.2"/>
<line x1="1437" y1="154.5" x2="1348.7" y2="608.4" stroke="#000" stroke-width="6"/>
<polygon points="1344.3,631 1337.2,602.1 1361.7,606.9" fill="#000"/>
<ellipse cx="1330.6" cy="687.3" rx="61.5" ry="55" fill="none" stroke="#000" stroke-width="9"/>
<rect x="2126" y="355" width="68.5" height="119" fill="#ff0000"/>
<rect x="2126" y="473.5" width="68.5" height="119" fill="#ff4b00"/>
<rect x="2126" y="592" width="68.5" height="119" fill="#ff9b00"/>
<rect x="2126" y="710.5" width="68.5" height="119" fill="#ffe600"/>
<rect x="2126" y="829" width="68.5" height="119" fill="#66ff00"/>
<rect x="2126" y="947.5" width="68.5" height="119" fill="#00f53d"/>
<rect x="2126" y="1066" width="68.5" height="119" fill="#00e5ff"/>
<rect x="2126" y="1184.5" width="68.5" height="119" fill="#0099ff"/>
<rect x="2126" y="1303" width="68.5" height="119" fill="#0044ff"/>
<rect x="2126" y="1421.5" width="68.5" height="119" fill="#0000d6"/>
<line x1="2126" y1="473.5" x2="2194.5" y2="473.5" stroke="#0d0d0d" stroke-width="3.0" />
<line x1="2126" y1="592" x2="2194.5" y2="592" stroke="#0d0d0d" stroke-width="3.0" />
<line x1="2126" y1="710.5" x2="2194.5" y2="710.5" stroke="#0d0d0d" stroke-width="3.0" />
<line x1="2126" y1="829" x2="2194.5" y2="829" stroke="#0d0d0d" stroke-width="3.0" />
<line x1="2126" y1="947.5" x2="2194.5" y2="947.5" stroke="#0d0d0d" stroke-width="3.0" />
<line x1="2126" y1="1066" x2="2194.5" y2="1066" stroke="#0d0d0d" stroke-width="3.0" />
<line x1="2126" y1="1184.5" x2="2194.5" y2="1184.5" stroke="#0d0d0d" stroke-width="3.0" />
<line x1="2126" y1="1303" x2="2194.5" y2="1303" stroke="#0d0d0d" stroke-width="3.0" />
<line x1="2126" y1="1421.5" x2="2194.5" y2="1421.5" stroke="#0d0d0d" stroke-width="3.0" />
<rect x="2126" y="355" width="68.5" height="1185" fill="none" stroke="#1c1c1c" stroke-width="3.4"/>
<g font-family="'Liberation Serif', serif" fill="#000"><text x="415" y="520.4" text-anchor="end" font-size="67.6" font-weight="normal" font-style="normal" >1.000</text>
<text x="417" y="657.3" text-anchor="end" font-size="67.6" font-weight="normal" font-style="normal" >0.999</text>
<text x="417" y="794.2" text-anchor="end" font-size="67.6" font-weight="normal" font-style="normal" >0.998</text>
<text x="417" y="931.1" text-anchor="end" font-size="67.6" font-weight="normal" font-style="normal" >0.997</text>
<text x="417" y="1068" text-anchor="end" font-size="67.6" font-weight="normal" font-style="normal" >0.996</text>
<text x="417" y="1204.9" text-anchor="end" font-size="67.6" font-weight="normal" font-style="normal" >0.995</text>
<text x="417.5" y="1319.9" text-anchor="end" font-size="67.6" font-weight="normal" font-style="normal" >0.310</text>
<text x="554.3" y="1416.5" text-anchor="end" font-size="67.6" font-weight="normal" font-style="normal" >0.319</text>
<text x="691" y="1513" text-anchor="end" font-size="67.6" font-weight="normal" font-style="normal" >0.329</text>
<text x="827.8" y="1609.6" text-anchor="end" font-size="67.6" font-weight="normal" font-style="normal" >0.338</text>
<text x="964.5" y="1706.1" text-anchor="end" font-size="67.6" font-weight="normal" font-style="normal" >0.348</text>
<text x="1101.3" y="1802.7" text-anchor="end" font-size="67.6" font-weight="normal" font-style="normal" >0.357</text>
<text x="1190.3" y="1802.7" text-anchor="start" font-size="67.6" font-weight="normal" font-style="normal" >0.310</text>
<text x="1327.1" y="1706.1" text-anchor="start" font-size="67.6" font-weight="normal" font-style="normal" >0.319</text>
<text x="1463.8" y="1609.6" text-anchor="start" font-size="67.6" font-weight="normal" font-style="normal" >0.329</text>
<text x="1600.6" y="1513" text-anchor="start" font-size="67.6" font-weight="normal" font-style="normal" >0.338</text>
<text x="1737.3" y="1416.5" text-anchor="start" font-size="67.6" font-weight="normal" font-style="normal" >0.348</text>
<text x="1874.1" y="1319.9" text-anchor="start" font-size="67.6" font-weight="normal" font-style="normal" >0.357</text>
<text x="2206.6" y="379.5" text-anchor="start" font-size="67.6" font-weight="normal" font-style="normal" >1.000</text>
<text x="2213" y="496" text-anchor="start" font-size="67.6" font-weight="normal" font-style="normal" >0.999</text>
<text x="2213" y="614.5" text-anchor="start" font-size="67.6" font-weight="normal" font-style="normal" >0.998</text>
<text x="2213" y="733" text-anchor="start" font-size="67.6" font-weight="normal" font-style="normal" >0.997</text>
<text x="2213" y="851.5" text-anchor="start" font-size="67.6" font-weight="normal" font-style="normal" >0.996</text>
<text x="2213" y="970" text-anchor="start" font-size="67.6" font-weight="normal" font-style="normal" >0.996</text>
<text x="2213" y="1088.5" text-anchor="start" font-size="67.6" font-weight="normal" font-style="normal" >0.995</text>
<text x="2213" y="1207" text-anchor="start" font-size="67.6" font-weight="normal" font-style="normal" >0.994</text>
<text x="2213" y="1325.5" text-anchor="start" font-size="67.6" font-weight="normal" font-style="normal" >0.993</text>
<text x="2213" y="1444" text-anchor="start" font-size="67.6" font-weight="normal" font-style="normal" >0.992</text>
<text x="2213" y="1564.5" text-anchor="start" font-size="67.6" font-weight="normal" font-style="normal" >0.991</text>
<text x="34" y="911" font-size="67" font-weight="bold">1-<tspan font-style="italic" font-weight="normal" font-size="65" stroke="#000" stroke-width="1.1" letter-spacing="1.6" dx="2.5">error</tspan></text>
<text transform="translate(326 1621.7) scale(1.22 1)" font-size="66" font-style="italic" stroke="#000" stroke-width="0.6">Γ</text>
<text x="367" y="1633.2" font-size="46" font-weight="bold" font-style="italic">j</text>
<text y="1621.7" font-size="66" font-weight="bold"><tspan x="401" font-weight="normal" font-size="70" dy="3">[</tspan><tspan x="420.5" dy="-3">m</tspan><tspan x="476" dy="-24" font-size="46">2</tspan><tspan x="511" dy="32" font-size="80" font-weight="normal" stroke="#000" stroke-width="1.2">/</tspan><tspan x="541" dy="-8">s</tspan><tspan x="567.5" font-weight="normal" font-size="70" dy="3">]</tspan></text>
<text transform="translate(1720 1637.5) scale(1.22 1)" font-size="66" font-style="italic" stroke="#000" stroke-width="0.6">Γ</text>
<text x="1760" y="1650" font-size="48" font-weight="bold" font-style="italic">k</text>
<text y="1637.5" font-size="66" font-weight="bold"><tspan x="1802.5" font-weight="normal" font-size="70" dy="3">[</tspan><tspan x="1822" dy="-3">m</tspan><tspan x="1877.5" dy="-24" font-size="46">2</tspan><tspan x="1912.5" dy="32" font-size="80" font-weight="normal" stroke="#000" stroke-width="1.2">/</tspan><tspan x="1942.5" dy="-8">s</tspan><tspan x="1969" font-weight="normal" font-size="70" dy="3">]</tspan></text>
<text x="1263.5" y="125.6" font-size="64" font-weight="bold" textLength="407" lengthAdjust="spacingAndGlyphs">Smallest error</text>
<text x="1684" y="122" font-size="58" font-weight="normal">(</text>
<text transform="translate(1705.5 123.5) scale(1.3 1)" font-size="56" font-style="italic" stroke="#000" stroke-width="0.6">Γ</text>
<text x="1737" y="141" font-size="42" font-weight="bold" font-style="italic">k</text>
<text transform="translate(1779 125) scale(1.2 1)" font-size="58" fill="#4a4a4a">=</text>
<text x="1833" y="123.5" font-size="56" font-weight="bold" textLength="150" lengthAdjust="spacing">0.337</text>
<text x="1984" y="123.5" font-size="56" font-weight="bold" font-style="italic">,</text>
<text transform="translate(2005.5 123.5) scale(1.3 1)" font-size="56" font-style="italic" stroke="#000" stroke-width="0.6">Γ</text>
<text x="2038" y="135" font-size="42" font-weight="bold" font-style="italic">j</text>
<text transform="translate(2071 125) scale(1.2 1)" font-size="58" fill="#4a4a4a">=</text>
<text x="2127" y="123.5" font-size="56" font-weight="bold" textLength="150" lengthAdjust="spacing">0.349</text>
<text x="2277" y="122" font-size="58" font-weight="normal">)</text></g>
</g>
</svg>
</body></html>
